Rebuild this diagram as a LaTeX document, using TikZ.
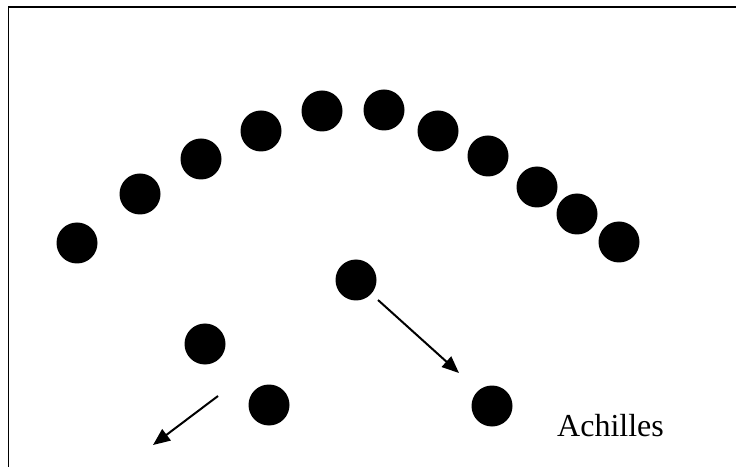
\documentclass[tikz,border=0pt]{standalone}
\usepackage{fontspec}
\setmainfont{Liberation Serif}
\usetikzlibrary{arrows.meta}
\begin{document}
\begin{tikzpicture}[x=1bp,y=-1bp,
  dot/.style={circle,fill=black,inner sep=0pt,minimum width=40bp,minimum height=41bp},
  motion/.style={line width=2bp,-{Triangle[length=17bp,width=14bp]}}]
\useasboundingbox (0,0) rectangle (736,467);
\fill[white] (0,0) rectangle (736,467);
\draw[line width=1.5bp] (8.5,467) -- (8.5,7) -- (736,7);
% arc of dots
\node[dot] (a1) at (77,243) {};
\node[dot] (a2) at (140,194) {};
\node[dot] (a3) at (201,159) {};
\node[dot] (a4) at (261,131) {};
\node[dot] (a5) at (322,111) {};
\node[dot] (a6) at (384,110) {};
\node[dot] (a7) at (438,131) {};
\node[dot] (a8) at (488,156) {};
\node[dot] (a9) at (537,187) {};
\node[dot] (a10) at (577,214) {};
\node[dot] (a11) at (619,242) {};
% lower dots
\node[dot] (b1) at (356,280) {};
\node[dot] (b2) at (205,344) {};
\node[dot] (b3) at (269,405) {};
\node[dot] (b4) at (492,406) {};
% arrows
\coordinate (s1) at (378,300);
\coordinate (e1) at (459,373);
\coordinate (s2) at (218,396);
\coordinate (e2) at (153,445);
\draw[motion] (s1) -- (e1);
\draw[motion] (s2) -- (e2);
\node[anchor=base west,inner sep=0pt,font=\fontsize{32bp}{38bp}\selectfont] (lab) at (557,436) {Achilles};
\end{tikzpicture}
\end{document}
